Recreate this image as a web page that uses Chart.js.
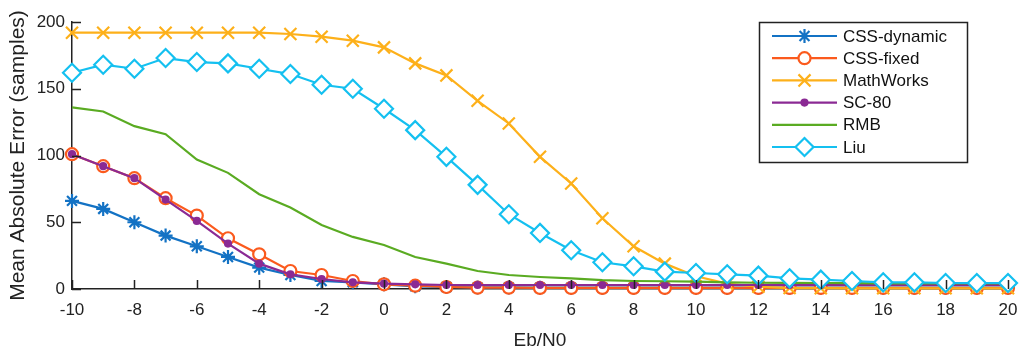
<!DOCTYPE html>
<html>
<head>
<meta charset="utf-8">
<script src="https://cdn.jsdelivr.net/npm/chart.js@4"></script>
<style>
  html, body { margin: 0; padding: 0; background: #fff; }
  #wrap { width: 1024px; height: 352px; }
</style>
</head>
<body>
<div id="wrap"><canvas id="myChart" width="1024" height="352"></canvas></div>
<script>
// Eb/N0 values (x)
const ebn0 = [-10,-9,-8,-7,-6,-5,-4,-3,-2,-1,0,1,2,3,4,5,6,7,8,9,10,11,12,13,14,15,16,17,18,19,20];

// series values (mean absolute error, samples)
const cssDynamic = [66,60,50,40,32,24,16,10.5,6,5,3.5,2,1.5,1.2,1.2,1,1,1,1,1,1,1,1,1,1,1,1,1,1,1,1];
const cssFixed = [101,92,83,68,55,38,26,13.5,10.5,6,3.5,2.5,1.5,1,1,0.8,0.8,0.8,0.8,0.8,0.8,0.8,0.8,0.8,0.8,0.8,0.8,0.8,0.8,0.8,0.8];
const mathWorks = [192,192,192,192,192,192,192,191,189,186,181,169,160,141,124,99,79,53,32,19,9.5,4,1.7,0.7,0.6,0.5,0.5,0.5,0.5,0.5,0.5];
const sc80 = [101,92,83,67,51,34,19,11,7.5,5,4,3.5,3,3,3,3,3,3,3,3,3,3,3,3,3,3,3,3,3,3,3];
const rmb = [136,133,122,116,97,87,71,61,48,39,33,24,19,13.5,10.5,9,8,6.7,6,5.8,5.5,5,4.7,4.6,4.5,4.4,4.2,4.2,4.2,4.2,4.2];
const liu = [162,168,165,173,170,169,165,161,153,150,135,119,99,78,56,42,29,20,17,13,12,11,10,8,7,6,5,5,4.5,4.5,4.5];

// tick labels
const xTicks = [-10,-8,-6,-4,-2,0,2,4,6,8,10,12,14,16,18,20];
const yTicks = [0,50,100,150,200];

const FONT = 'Arial, "Liberation Sans", sans-serif';

const series = [
  { label: 'CSS-dynamic', data: cssDynamic, color: '#1372c4', style: 'star', r: 7, fill: '#1372c4' },
  { label: 'CSS-fixed', data: cssFixed, color: '#fb5a1d', style: 'circle', r: 6, fill: '#ffffff' },
  { label: 'MathWorks', data: mathWorks, color: '#fdb01a', style: 'crossRot', r: 8.5, fill: '#fdb01a' },
  { label: 'SC-80', data: sc80, color: '#8b2a94', style: 'circle', r: 3, fill: '#8b2a94' },
  { label: 'RMB', data: rmb, color: '#5aab22', style: false, r: 0, fill: '#5aab22' },
  { label: 'Liu', data: liu, color: '#14c0f0', style: 'rectRot', r: 9, fill: '#ffffff' }
];

const datasets = series.map((s, i) => ({
  label: s.label,
  data: ebn0.map((x, j) => ({ x: x, y: s.data[j] })),
  borderColor: s.color,
  backgroundColor: s.fill,
  borderWidth: 2.2,
  pointStyle: s.style,
  pointRadius: s.r,
  pointBorderWidth: 2.2,
  pointBackgroundColor: s.fill,
  pointBorderColor: s.color,
  tension: 0,
  clip: 12,
  order: 6 - i
}));

// inward tick marks, like the original
const tickMarks = {
  id: 'tickMarks',
  afterDraw(chart) {
    const ctx = chart.ctx;
    const xs = chart.scales.x, ys = chart.scales.y;
    const area = chart.chartArea;
    ctx.save();
    ctx.strokeStyle = '#222';
    ctx.lineWidth = 1.5;
    ctx.beginPath();
    xTicks.forEach(v => {
      const px = Math.round(xs.getPixelForValue(v)) + 0.5;
      ctx.moveTo(px, area.bottom);
      ctx.lineTo(px, area.bottom - 9);
    });
    yTicks.forEach(v => {
      const py = Math.round(ys.getPixelForValue(v)) + 0.5;
      ctx.moveTo(area.left, py);
      ctx.lineTo(area.left + 9, py);
    });
    ctx.stroke();
    ctx.restore();
  }
};

// legend box inside the plot, top right
const boxLegend = {
  id: 'boxLegend',
  afterDraw(chart) {
    const ctx = chart.ctx;
    const left = 759, top = 22, w = 208, h = 140;
    ctx.save();
    ctx.fillStyle = '#fff';
    ctx.fillRect(left, top, w, h);
    ctx.strokeStyle = '#222';
    ctx.lineWidth = 1.5;
    ctx.strokeRect(left + 0.5, top + 0.5, w, h);
    ctx.font = '17px ' + FONT;
    ctx.textBaseline = 'middle';
    series.forEach((s, i) => {
      const y = 36 + i * 22.2;
      ctx.strokeStyle = s.color;
      ctx.lineWidth = 2.2;
      ctx.beginPath();
      ctx.moveTo(772, y);
      ctx.lineTo(837, y);
      ctx.stroke();
      if (s.style) {
        ctx.fillStyle = s.fill;
        ctx.strokeStyle = s.color;
        ctx.lineWidth = 2.2;
        Chart.helpers.drawPoint(ctx, { pointStyle: s.style, radius: s.r, rotation: 0, borderWidth: 2.2 }, 804.5, y);
      }
      ctx.fillStyle = '#111';
      ctx.fillText(s.label, 843, y + 1);
    });
    ctx.restore();
  }
};

const config = {
  type: 'line',
  data: { datasets: datasets },
  options: {
    responsive: false,
    animation: false,
    layout: { autoPadding: false, padding: { top: 22, right: 16, left: 0, bottom: 0 } },
    plugins: {
      legend: { display: false },
      tooltip: { enabled: false }
    },
    scales: {
      x: {
        type: 'linear',
        min: -10,
        max: 20,
        afterBuildTicks(scale) { scale.ticks = xTicks.map(v => ({ value: v })); },
        afterFit(scale) { scale.height = 63; scale.paddingLeft = 0; scale.paddingRight = 0; },
        grid: { display: false, drawTicks: false },
        border: { display: true, color: '#222', width: 1.5 },
        ticks: { color: '#222', padding: 11, maxRotation: 0, autoSkip: false, font: { size: 17, family: FONT } },
        title: { display: true, text: 'Eb/N0', color: '#222', padding: { top: 0, bottom: 0 }, font: { size: 19, family: FONT } }
      },
      y: {
        min: 0,
        max: 200,
        afterBuildTicks(scale) { scale.ticks = yTicks.map(v => ({ value: v })); },
        afterFit(scale) { scale.width = 72; },
        grid: { display: false, drawTicks: false },
        border: { display: true, color: '#222', width: 1.5 },
        ticks: { color: '#222', padding: 7, font: { size: 17, family: FONT } },
        title: { display: true, text: 'Mean Absolute Error (samples)', color: '#222', padding: { top: 6, bottom: 0 }, font: { size: 21, family: FONT } }
      }
    }
  },
  plugins: [tickMarks, boxLegend]
};

const myChart = new Chart(document.getElementById('myChart'), config);
</script>
</body>
</html>
